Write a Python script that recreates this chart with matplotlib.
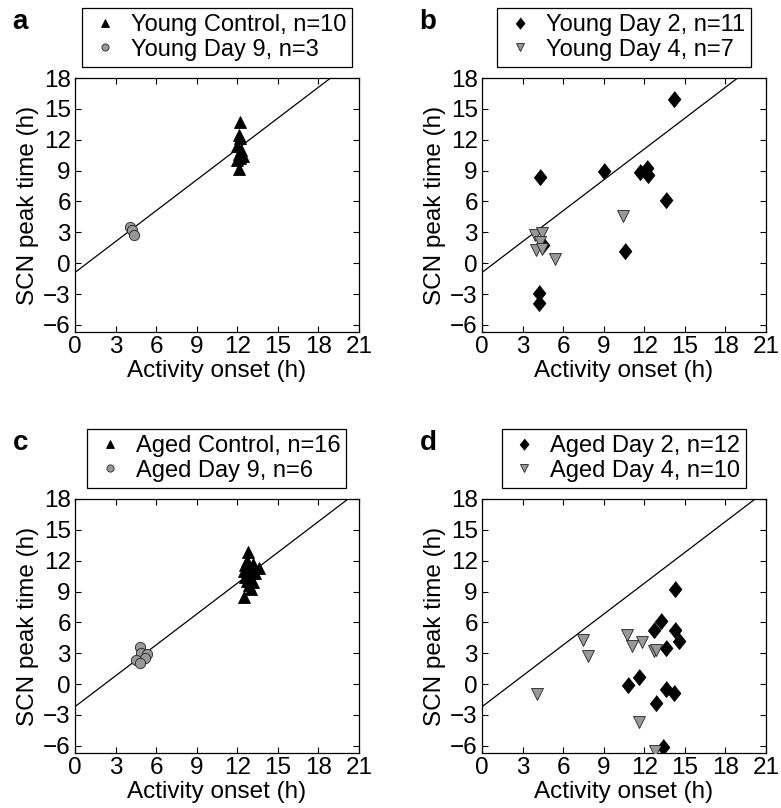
import matplotlib
matplotlib.use("Agg")
import matplotlib.pyplot as plt

plt.rcParams['font.family'] = ['Liberation Sans', 'DejaVu Sans']

# panel a: young control / young day 9
young_ctrl_x = [12.2, 12.1, 12.2, 12.0, 12.3, 12.1, 12.4, 12.2, 12.0, 12.1]
young_ctrl_y = [13.7, 12.5, 12.2, 11.4, 11.0, 10.6, 10.4, 10.2, 10.0, 9.2]
young_d9_x = [4.1, 4.2, 4.4]
young_d9_y = [3.5, 3.2, 2.7]

# panel b: young day 2 / young day 4
young_d2_x = [4.3, 9.0, 14.2, 11.7, 12.2, 12.3, 13.6, 10.6, 4.2, 4.2, 4.5]
young_d2_y = [8.4, 9.0, 16.0, 8.9, 9.3, 8.6, 6.1, 1.2, -2.9, -3.9, 1.8]
young_d4_x = [3.9, 4.4, 4.3, 4.0, 4.4, 5.4, 10.4]
young_d4_y = [2.7, 2.9, 2.1, 1.3, 1.4, 0.4, 4.6]

# panel c: aged control / aged day 9
aged_ctrl_x = [12.8, 12.7, 12.6, 13.2, 13.6, 12.5, 13.0, 13.3, 12.6, 12.9,
               12.7, 13.2, 12.8, 13.0, 12.9, 12.5]
aged_ctrl_y = [12.8, 12.0, 11.6, 11.7, 11.3, 11.0, 11.1, 10.8, 10.4, 10.5,
               10.0, 9.9, 10.6, 9.2, 9.6, 8.5]
aged_d9_x = [4.8, 4.9, 5.3, 5.2, 4.5, 4.8]
aged_d9_y = [3.6, 3.0, 2.9, 2.5, 2.3, 2.0]

# panel d: aged day 2 / aged day 4
aged_d2_x = [14.3, 13.2, 12.7, 14.3, 14.6, 13.6, 11.6, 10.8, 13.6, 14.2, 12.9, 13.4]
aged_d2_y = [9.2, 6.1, 5.3, 5.3, 4.2, 3.5, 0.7, -0.1, -0.5, -0.9, -1.8, -6.1]
aged_d4_x = [7.5, 7.8, 10.7, 11.1, 11.8, 12.7, 12.9, 11.6, 12.8, 4.1]
aged_d4_y = [4.3, 2.7, 4.8, 3.7, 4.1, 3.2, 3.3, -3.7, -6.5, -1.0]

# regression lines (slope 1)
fit_young = -0.9
fit_aged = -2.2

ticks = [0, 3, 6, 9, 12, 15, 18, 21]
yticks = [-6, -3, 0, 3, 6, 9, 12, 15, 18]

grey = '#989898'
diamond = [(0, 1), (0.8, 0), (0, -1), (-0.8, 0)]

panels = [
    ('a', [0.096, 0.589], young_ctrl_x, young_ctrl_y, 'Young Control, n=10', '^', 'k',
     young_d9_x, young_d9_y, 'Young Day 9, n=3', 'o', grey, fit_young),
    ('b', [0.6172, 0.589], young_d2_x, young_d2_y, 'Young Day 2, n=11', diamond, 'k',
     young_d4_x, young_d4_y, 'Young Day 4, n=7', 'v', grey, fit_young),
    ('c', [0.096, 0.0681], aged_ctrl_x, aged_ctrl_y, 'Aged Control, n=16', '^', 'k',
     aged_d9_x, aged_d9_y, 'Aged Day 9, n=6', 'o', grey, fit_aged),
    ('d', [0.6172, 0.0681], aged_d2_x, aged_d2_y, 'Aged Day 2, n=12', diamond, 'k',
     aged_d4_x, aged_d4_y, 'Aged Day 4, n=10', 'v', grey, fit_aged),
]

sizes = {'^': 9, 'o': 7.4, 'v': 9}

fig = plt.figure(figsize=(7.81, 8.08), dpi=100)

for (lab, pos, x1, y1, l1, m1, c1, x2, y2, l2, m2, c2, b) in panels:
    ax = fig.add_axes([pos[0], pos[1], 0.3636, 0.3144])
    ax.plot([0, 21], [b, 21 + b], color='k', lw=0.9, zorder=1)
    s1 = sizes.get(m1) if isinstance(m1, str) else 11.5
    s2 = sizes.get(m2) if isinstance(m2, str) else 11.5
    ax.plot(x1, y1, linestyle='none', marker=m1, ms=s1, mfc=c1, mec='k', mew=0.6,
            label=l1, zorder=3)
    ax.plot(x2, y2, linestyle='none', marker=m2, ms=s2, mfc=c2, mec='#222222', mew=0.6,
            label=l2, zorder=3)
    ax.set_xlim(0, 21)
    ax.set_ylim(-6.7, 18)
    ax.set_xticks(ticks)
    ax.set_yticks(yticks)
    ax.tick_params(direction='in', top=True, right=True, length=4, width=0.8,
                   labelsize=17.5, pad=3)
    for sp in ax.spines.values():
        sp.set_linewidth(0.9)
    ax.set_xlabel('Activity onset (h)', fontsize=17.5, labelpad=1)
    ax.set_ylabel('SCN peak time (h)', fontsize=17.5, labelpad=3)
    leg = ax.legend(loc='lower center', bbox_to_anchor=(0.5, 1.045), fontsize=17,
                    frameon=True, fancybox=False, edgecolor='k', framealpha=1,
                    borderpad=0.25, labelspacing=0.1, handlelength=1.4,
                    handletextpad=0.4, markerscale=0.7, borderaxespad=0)
    leg.get_frame().set_linewidth(0.9)
    fig.text(pos[0] - 0.08, pos[1] + 0.3144 + 0.085, lab, fontsize=20,
             fontweight='bold', ha='left', va='top')

fig.savefig('out.png', dpi=100)
